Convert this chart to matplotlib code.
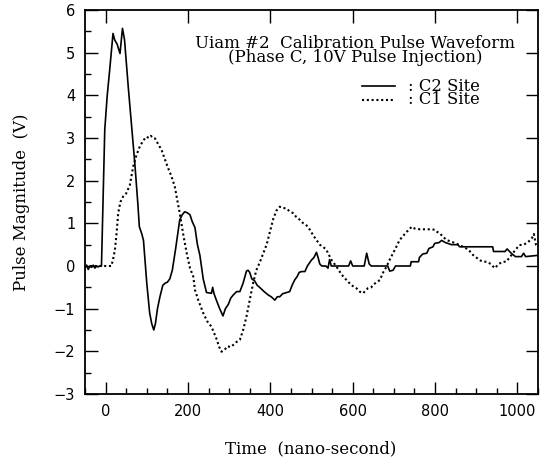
import matplotlib
matplotlib.use("Agg")
import matplotlib.pyplot as plt
import matplotlib.lines as mlines
from matplotlib.ticker import MultipleLocator

# C2 Site (solid)
c2_t = [-50, -46, -42, -38, -34, -30, -26, -22, -18, -14, -10, -2, 4, 10, 18, 22, 28, 35, 41, 46, 55, 63, 71, 78, 82,
        88, 92, 100, 107, 112, 117, 121, 126, 132, 139, 145, 150, 156, 162, 170, 180, 186, 192, 198, 205, 210,
        217, 223, 229, 237, 245, 257, 260, 263, 269, 277, 285, 291, 298, 304, 310, 318, 326, 334, 342, 346,
        350, 355, 362, 368, 374, 385, 395, 402, 411, 417, 423, 430, 440, 447, 453, 459, 465, 470, 476, 484,
        490, 500, 506, 512, 516, 520, 525, 535, 540, 544, 548, 560, 590, 595, 600, 628, 634, 640, 645, 685,
        690, 698, 704, 740, 742, 760, 762, 770, 780, 785, 795, 799, 810, 816, 825, 840, 855, 860, 940, 942,
        970, 975, 985, 995, 1010, 1015, 1020, 1050]
c2_v = [-0.05, 0.02, -0.08, 0.0, -0.03, 0.02, -0.05, 0.0, -0.02, 0.0, 0.0, 3.2, 4.0, 4.6, 5.45, 5.3, 5.2, 4.98, 5.57,
        5.3, 4.2, 3.3, 2.4, 1.5, 0.92, 0.75, 0.6, -0.4, -1.1, -1.35, -1.5, -1.35, -1.0, -0.72, -0.45, -0.4,
        -0.38, -0.3, -0.1, 0.4, 1.08, 1.2, 1.27, 1.25, 1.2, 1.05, 0.9, 0.5, 0.25, -0.3, -0.62, -0.64, -0.5,
        -0.64, -0.8, -1.0, -1.17, -1.0, -0.9, -0.75, -0.68, -0.6, -0.6, -0.4, -0.12, -0.1, -0.15, -0.3, -0.35,
        -0.45, -0.5, -0.6, -0.68, -0.72, -0.8, -0.72, -0.72, -0.65, -0.62, -0.6, -0.45, -0.33, -0.25, -0.15,
        -0.13, -0.13, 0.0, 0.14, 0.2, 0.32, 0.2, 0.05, 0.0, 0.0, -0.05, 0.15, 0.0, 0.0, 0.0, 0.12, 0.0, 0.0,
        0.3, 0.05, 0.0, 0.0, -0.12, -0.1, 0.0, 0.0, 0.1, 0.1, 0.2, 0.28, 0.3, 0.41, 0.45, 0.53, 0.55, 0.6,
        0.55, 0.5, 0.5, 0.45, 0.45, 0.34, 0.34, 0.4, 0.3, 0.22, 0.22, 0.3, 0.22, 0.25]

# C1 Site (dotted)
c1_t = [-50, 14, 18, 22.6, 27, 30.6, 36, 42.7, 50, 59, 67, 75, 83, 92, 99.5, 105, 110, 115, 120, 128, 136, 144,
        152, 160, 168, 174, 180, 188, 197, 205, 213, 217, 225, 237, 247, 257, 269, 276, 281.5, 290, 296, 303,
        310, 318, 326, 334, 342, 350, 358, 366, 375, 383, 391, 399, 407, 415, 423, 431, 439, 447, 455, 463,
        472, 480, 488, 496, 504, 512, 520, 528, 536, 548, 561, 573, 585, 597, 609, 617, 625, 631, 637, 645,
        650, 658, 666, 674, 682, 690, 698, 706, 714, 722, 731, 737, 743, 750, 763, 790, 799, 805, 811, 820,
        828, 845, 860, 868, 876, 884, 892, 900, 908, 916, 925, 935, 945, 955, 965, 973, 981, 989, 997, 1005,
        1015, 1025, 1035, 1040, 1045, 1050]
c1_v = [0.0, 0.0, 0.15, 0.37, 0.8, 1.24, 1.5, 1.63, 1.7, 1.9, 2.33, 2.6, 2.8, 2.95, 3.03, 3.0, 3.05, 3.0, 2.99,
        2.85, 2.72, 2.5, 2.29, 2.1, 1.86, 1.55, 1.24, 0.77, 0.3, -0.05, -0.25, -0.56, -0.8, -1.1, -1.3, -1.42,
        -1.7, -1.9, -2.01, -1.95, -1.88, -1.9, -1.85, -1.78, -1.73, -1.5, -1.19, -0.8, -0.41, -0.1, 0.1, 0.3,
        0.5, 0.8, 1.1, 1.3, 1.39, 1.36, 1.35, 1.28, 1.24, 1.15, 1.08, 1.0, 0.95, 0.85, 0.72, 0.61, 0.5, 0.45,
        0.38, 0.15, -0.02, -0.2, -0.33, -0.45, -0.52, -0.6, -0.64, -0.58, -0.52, -0.5, -0.44, -0.38, -0.33,
        -0.15, -0.02, 0.15, 0.3, 0.45, 0.61, 0.7, 0.8, 0.85, 0.92, 0.88, 0.86, 0.86, 0.85, 0.8, 0.77, 0.68,
        0.61, 0.55, 0.49, 0.45, 0.41, 0.35, 0.26, 0.2, 0.14, 0.1, 0.1, 0.05, -0.05, 0.05, 0.1, 0.1, 0.2, 0.3,
        0.4, 0.49, 0.5, 0.55, 0.65, 0.75, 0.5, 0.45]

title_lines = ["Uiam #2  Calibration Pulse Waveform", "(Phase C, 10V Pulse Injection)"]
legend_labels = [": C2 Site", ": C1 Site"]
x_label = "Time  (nano-second)"
y_label = "Pulse Magnitude  (V)"

W, H = 551, 463
serif = "DejaVu Serif"
dotted = (0, (1.0, 1.3))

fig = plt.figure(figsize=(W / 100, H / 100), dpi=100)
ax = fig.add_axes([85 / W, 1 - 394 / H, (538 - 85) / W, (394 - 10) / H])

ax.plot(c2_t, c2_v, color="black", lw=1.2)
ax.plot(c1_t, c1_v, color="black", lw=1.5, linestyle=dotted)

ax.set_xlim(-50, 1050)
ax.set_ylim(-3, 6)
ax.xaxis.set_major_locator(MultipleLocator(200))
ax.xaxis.set_minor_locator(MultipleLocator(50))
ax.yaxis.set_major_locator(MultipleLocator(1))
ax.yaxis.set_minor_locator(MultipleLocator(0.5))
ax.tick_params(which="both", direction="in", top=True, right=True, labelsize=10.5, width=1.0, pad=7)
ax.tick_params(which="major", length=9)
ax.tick_params(which="minor", length=4.5, top=False, right=False)
for s in ax.spines.values():
    s.set_linewidth(1.3)
for lab in ax.get_xticklabels() + ax.get_yticklabels():
    lab.set_fontfamily("DejaVu Sans")


def ftext(px, py, s, size=12, **kw):
    return fig.text(px / W, 1 - py / H, s, family=serif, fontsize=size, **kw)


ftext(311, 449, x_label, ha="center", va="center")
ftext(22, 202, y_label, ha="center", va="center", rotation=90)
ftext(355, 50.5, "\n".join(title_lines), ha="center", va="center", multialignment="center", linespacing=0.78)

for i, (ls, lw) in enumerate(zip(["-", dotted], [1.2, 1.5])):
    py = 86 + i * 14
    fig.add_artist(mlines.Line2D([362 / W, 395 / W], [1 - py / H, 1 - py / H], color="black", lw=lw, linestyle=ls))
ftext(408, 93, "\n".join(legend_labels), size=11.8, ha="left", va="center", linespacing=0.75)

fig.savefig("out.png", dpi=100)
